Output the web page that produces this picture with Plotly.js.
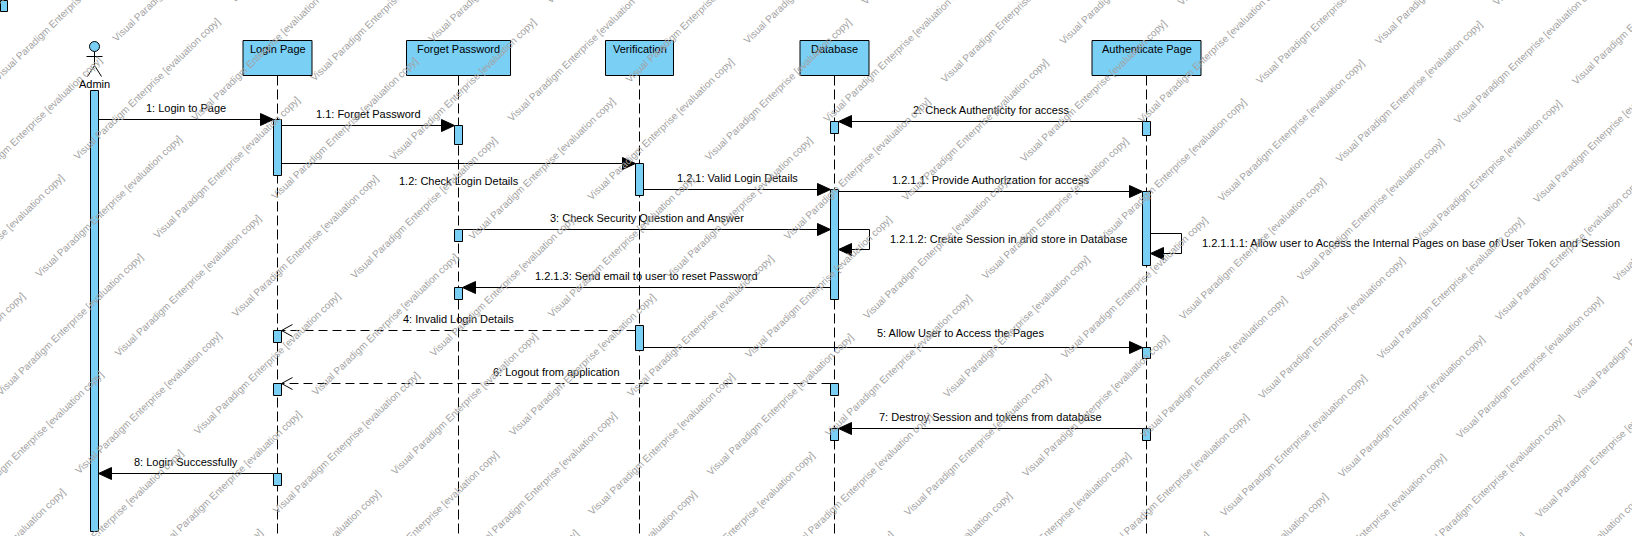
<!DOCTYPE html>
<html><head><meta charset="utf-8">
<script src="https://cdn.plot.ly/plotly-3.0.1.min.js"></script>
<style>html,body{margin:0;padding:0;background:#fff;overflow:hidden}#chart{width:1632px;height:536px}</style>
</head><body><div id="chart"></div>
<script>
// ---------------- data ----------------
const participants = ["Admin", "Login Page", "Forget Password", "Verification", "Database", "Authenticate Page"];
const participantKinds = ["actor", "object", "object", "object", "object", "object"];

// messages (time = vertical order on the diagram)
const msgFrom  = [0, 1, 1, 3, 4, 5, 2, 4, 4, 5, 3, 3, 4, 5, 1];
const msgTo    = [1, 2, 3, 4, 5, 4, 4, 4, 2, 5, 1, 5, 1, 4, 0];
const msgTime  = [119, 125, 163, 189, 191, 121, 229, 229, 287, 233, 330, 347, 383, 428, 473];
const msgTypes = ["call", "call", "call", "call", "call", "call", "call", "self", "call", "self", "return", "call", "return", "call", "call"];
const msgLabels = [
  "1: Login to Page",
  "1.1: Forget Password",
  "1.2: Check Login Details",
  "1.2.1: Valid Login Details",
  "1.2.1.1: Provide Authorization for access",
  "2: Check Authenticity for access",
  "3: Check Security Question and Answer",
  "1.2.1.2: Create Session in and store in Database",
  "1.2.1.3: Send email to user to reset Password",
  "1.2.1.1.1: Allow user to Access the Internal Pages on base of User Token and Session",
  "4: Invalid Login Details",
  "5: Allow User to Access the Pages",
  "6: Logout from application",
  "7: Destroy Session and tokens from database",
  "8: Login Successfully"
];

// activation bars
const actParticipant = [0, 1, 1, 1, 1, 2, 2, 2, 3, 3, 4, 4, 4, 4, 5, 5, 5, 5];
const actStart = [90, 119, 330, 383, 473, 125, 229, 287, 163, 325, 121, 189, 383, 428, 121, 191, 347, 428];
const actEnd   = [531, 175, 342, 395, 485, 144, 241, 299, 195, 350, 133, 299, 395, 440, 135, 265, 358, 440];

const watermarkText = "Visual Paradigm Enterprise [evaluation copy]";

// ---------------- layout / style ----------------
const L = {
  W: 1632, H: 536,
  lifelineX: [94, 277, 458, 639, 834, 1146],
  boxWidth: [0, 69, 104, 68, 69, 109],
  boxTop: 40, boxBottom: 75, lifelineEnd: 536,
  barHalf: 4, headLen: 13, headHalf: 6, openLen: 11,
  selfWidth: 31, selfDrop: 20,
  labelGap: 12,
  labelShift: {2: [0, 29], 11: [67, -3]},
  fill: "rgb(122,207,245)",
  font: "Arial, 'Liberation Sans', sans-serif",
  wmColor: "#a3a3a3",
  wmOrigin: [1213.3, 366.1], wmA: [79.4, 78.9], wmB: [118.1, -39.0]
};

const traces = [];
const shapes = [];
const annotations = [];

// lifelines
const llx = [], lly = [];
participants.forEach((p, i) => {
  if (participantKinds[i] !== "object") return;
  const x = L.lifelineX[i];
  llx.push(x, x, null); lly.push(L.boxBottom, L.lifelineEnd, null);
});
traces.push({x: llx, y: lly, mode: "lines", line: {color: "#000", width: 1, dash: "10px,4px"}, hoverinfo: "skip"});

// participant heads
participants.forEach((p, i) => {
  const x = L.lifelineX[i];
  if (participantKinds[i] === "object") {
    const w = L.boxWidth[i];
    shapes.push({type: "rect", xref: "x", yref: "y", x0: x - w / 2, x1: x + w / 2, y0: L.boxTop, y1: L.boxBottom,
      fillcolor: L.fill, line: {color: "#000", width: 1}, layer: "above"});
    annotations.push({x: x, y: L.boxTop + 8, xref: "x", yref: "y", text: p, showarrow: false,
      xanchor: "center", yanchor: "middle", font: {family: L.font, size: 11, color: "#000"}});
  } else {
    shapes.push({type: "circle", xref: "x", yref: "y", x0: x - 5, x1: x + 5, y0: 41, y1: 51,
      fillcolor: L.fill, line: {color: "#000", width: 1}, layer: "above"});
    traces.push({x: [x, x, null, x - 8, x + 8, null, x - 7, x, x + 7], y: [51, 65, null, 56, 56, null, 76, 65, 76],
      mode: "lines", line: {color: "#000", width: 1}, hoverinfo: "skip"});
    annotations.push({x: x, y: 83, xref: "x", yref: "y", text: p, showarrow: false,
      xanchor: "center", yanchor: "middle", font: {family: L.font, size: 11, color: "#000"}});
  }
});

// activation bars
actParticipant.forEach((p, k) => {
  const x = L.lifelineX[p];
  shapes.push({type: "rect", xref: "x", yref: "y", x0: x - L.barHalf, x1: x + L.barHalf, y0: actStart[k], y1: actEnd[k],
    fillcolor: L.fill, line: {color: "#000", width: 1}, layer: "above"});
});

// messages
const solidX = [], solidY = [], dashX = [], dashY = [], triX = [], triY = [], openX = [], openY = [];
msgLabels.forEach((label, k) => {
  const fx = L.lifelineX[msgFrom[k]], tx = L.lifelineX[msgTo[k]];
  const y = msgTime[k];
  const shift = L.labelShift[k] || [0, 0];
  if (msgTypes[k] === "self") {
    const x0 = fx + L.barHalf, xl = x0 + L.selfWidth, y2 = y + L.selfDrop;
    solidX.push(x0, xl, xl, x0 + L.headLen, null); solidY.push(y, y, y2, y2, null);
    triX.push(x0, x0 + L.headLen, x0 + L.headLen, x0, null); triY.push(y2, y2 - L.headHalf, y2 + L.headHalf, y2, null);
    annotations.push({x: xl + 18 + shift[0], y: y + 9 + shift[1], xref: "x", yref: "y", text: label, showarrow: false,
      xanchor: "left", yanchor: "middle", font: {family: L.font, size: 11, color: "#000"}});
    return;
  }
  const dir = tx > fx ? 1 : -1;
  const xs = fx + dir * L.barHalf, xe = tx - dir * L.barHalf;
  if (msgTypes[k] === "return") {
    dashX.push(xs, xe, null); dashY.push(y, y, null);
    openX.push(xe - dir * L.openLen, xe, xe - dir * L.openLen, null); openY.push(y - L.headHalf, y, y + L.headHalf, null);
  } else {
    solidX.push(xs, xe - dir * L.headLen, null); solidY.push(y, y, null);
    triX.push(xe, xe - dir * L.headLen, xe - dir * L.headLen, xe, null);
    triY.push(y, y - L.headHalf, y + L.headHalf, y, null);
  }
  annotations.push({x: (xs + xe) / 2 + shift[0], y: y - L.labelGap + shift[1], xref: "x", yref: "y", text: label, showarrow: false,
    xanchor: "center", yanchor: "middle", font: {family: L.font, size: 11, color: "#000"}});
});
traces.push({x: solidX, y: solidY, mode: "lines", line: {color: "#000", width: 1}, hoverinfo: "skip"});
traces.push({x: dashX, y: dashY, mode: "lines", line: {color: "#000", width: 1, dash: "9px,5px"}, hoverinfo: "skip"});
traces.push({x: openX, y: openY, mode: "lines", line: {color: "#000", width: 1}, hoverinfo: "skip"});
traces.push({x: triX, y: triY, mode: "lines", fill: "toself", fillcolor: "#000", line: {color: "#000", width: 1}, hoverinfo: "skip"});

// little marker at top-left corner
shapes.push({type: "rect", xref: "x", yref: "y", x0: 0, x1: 7, y0: 0, y1: 11, fillcolor: L.fill, line: {color: "#000", width: 1}, layer: "above"});

// watermark tiling (as in the reference image)
for (let i = -14; i <= 14; i++) {
  for (let j = -16; j <= 16; j++) {
    const cx = L.wmOrigin[0] + L.wmA[0] * i + L.wmB[0] * j;
    const cy = L.wmOrigin[1] + L.wmA[1] * i + L.wmB[1] * j;
    if (cx < -80 || cx > L.W + 80 || cy < -75 || cy > L.H + 75) continue;
    annotations.push({x: (cx + 0.5) / L.W, y: 1 - (cy + 0.5) / L.H, xref: "paper", yref: "paper",
      text: watermarkText, showarrow: false, textangle: -44, xanchor: "center", yanchor: "middle",
      font: {family: L.font, size: 10, color: L.wmColor}});
  }
}

const layout = {
  width: L.W, height: L.H,
  margin: {l: 0, r: 0, t: 0, b: 0, pad: 0},
  paper_bgcolor: "#fff", plot_bgcolor: "#fff",
  showlegend: false, hovermode: false,
  xaxis: {range: [-0.5, L.W - 0.5], visible: false, fixedrange: true},
  yaxis: {range: [L.H - 0.5, -0.5], visible: false, fixedrange: true},
  shapes: shapes,
  annotations: annotations
};
Plotly.newPlot("chart", traces, layout, {staticPlot: true, displayModeBar: false});
</script>
</body></html>
